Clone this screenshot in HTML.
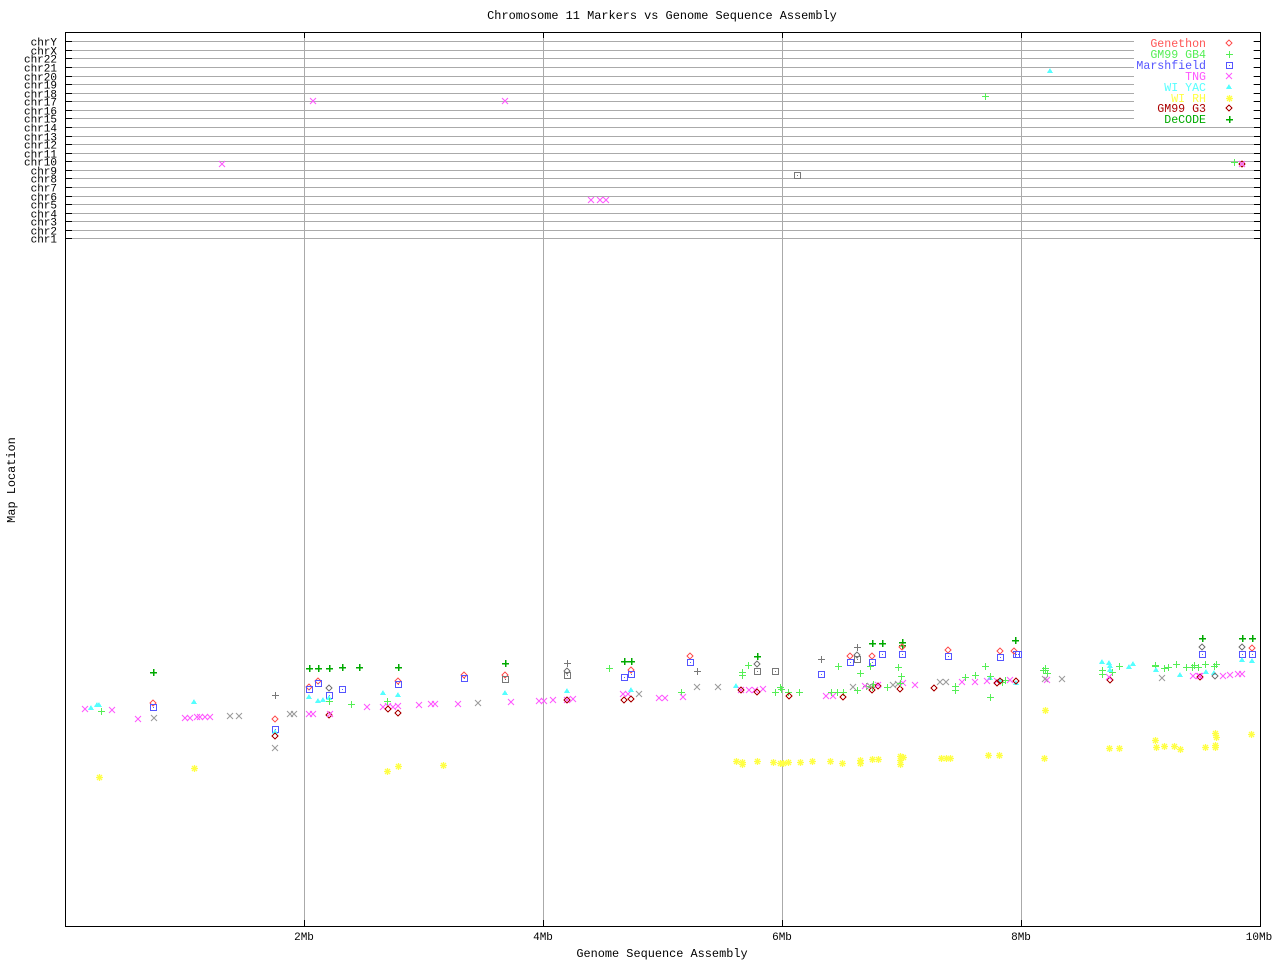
<!DOCTYPE html>
<html><head><meta charset="utf-8"><style>
html,body{margin:0;padding:0;background:#fff;}
svg text{font-family:"Liberation Mono","DejaVu Sans Mono",monospace;font-size:11px;}
</style></head><body>
<svg id="s" width="1280" height="960" xmlns="http://www.w3.org/2000/svg" shape-rendering="crispEdges">
<rect width="1280" height="960" fill="#fff"/>
<text x="662" y="19" text-anchor="middle" style="font-size:11.9px">Chromosome 11 Markers vs Genome Sequence Assembly</text>
<text x="662" y="957" text-anchor="middle" style="font-size:11.9px">Genome Sequence Assembly</text>
<text transform="translate(15,480) rotate(-90)" text-anchor="middle" style="font-size:11.9px">Map Location</text>
<g id="grid"></g>
<rect x="65.5" y="32.5" width="1195" height="894" fill="none" stroke="#000"/>
<g id="pts"></g>
<g id="leg"></g>
</svg>
<script>
var NS="http://www.w3.org/2000/svg",g=document.getElementById('grid'),P=document.getElementById('pts'),L=document.getElementById('leg');
function el(p,t,a,txt){var e=document.createElementNS(NS,t);for(var k in a)e.setAttribute(k,a[k]);if(txt)e.textContent=txt;p.appendChild(e);return e;}
var chr=["chrY","chrX","chr22","chr21","chr20","chr19","chr18","chr17","chr16","chr15","chr14","chr13","chr12","chr11","chr10","chr9","chr8","chr7","chr6","chr5","chr4","chr3","chr2","chr1"];
for(var i=0;i<24;i++){var y=Math.round(41.3+i*8.57)+0.5;
el(g,'line',{x1:66,x2:1260,y1:y,y2:y,stroke:'#aaa'});
el(g,'line',{x1:66,x2:72,y1:y,y2:y,stroke:'#000'});
el(g,'line',{x1:1254,x2:1260,y1:y,y2:y,stroke:'#000'});
el(g,'text',{x:57,y:y+4,'text-anchor':'end'},chr[i]);}
var xs=[304,543,782,1021],lb=["2Mb","4Mb","6Mb","8Mb"];
for(var i=0;i<4;i++){var x=xs[i]+0.5;el(g,'line',{x1:x,x2:x,y1:33,y2:926,stroke:'#aaa'});
el(g,'line',{x1:x,x2:x,y1:33,y2:38,stroke:'#000'});el(g,'line',{x1:x,x2:x,y1:920,y2:926,stroke:'#000'});
el(g,'text',{x:xs[i],y:940,'text-anchor':'middle'},lb[i]);}
el(g,'text',{x:1259,y:940,'text-anchor':'middle'},"10Mb");
var C={g:'#f55',p:'#5e5',m:'#55f',t:'#f5f',y:'#5ff',r:'#ff4',d:'#a00',c:'#0a0',X:'#999',S:'#777',P:'#777',D:'#777'};
function sym(par,t,x,y){var c=C[t];
if(t=='g'||t=='d'||t=='D'){el(par,'polygon',{points:(x)+','+(y-3)+' '+(x+3)+','+y+' '+x+','+(y+3)+' '+(x-3)+','+y,fill:'none',stroke:c});}
else if(t=='p'||t=='c'||t=='P'){el(par,'path',{d:'M'+(x-3)+' '+(y+.5)+'h7M'+(x+.5)+' '+(y-3)+'v7',stroke:c,'stroke-width':(t=='c'?1.5:1)});}
else if(t=='m'||t=='S'){el(par,'rect',{x:x-2.5,y:y-2.5,width:6,height:6,fill:'none',stroke:c});el(par,'rect',{x:x,y:y,width:1,height:1,fill:c});}
else if(t=='t'||t=='X'){el(par,'path',{d:'M'+(x-3)+' '+(y-3)+'L'+(x+3)+' '+(y+3)+'M'+(x+3)+' '+(y-3)+'L'+(x-3)+' '+(y+3),stroke:c,'shape-rendering':'auto'});}
else if(t=='y'){el(par,'polygon',{points:x+','+(y-3)+' '+(x+3)+','+(y+2)+' '+(x-3)+','+(y+2),fill:c});}
else if(t=='r'){el(par,'path',{d:'M'+(x-3)+' '+(y+.5)+'h7M'+(x+.5)+' '+(y-3)+'v7M'+(x-2)+' '+(y-2)+'l5 5M'+(x+3)+' '+(y-2)+'l-5 5',stroke:c,'stroke-width':1.3,'shape-rendering':'auto'});}}
var D="t 222 164;t 313 101;t 505 101;t 591 200;t 600 200;t 606 200;d 1242 164;t 1242 164;S 797 175;y 1050 71;p 985 96;p 1234 162;"+
"t 85 709;y 91 708;y 97 705;y 99 705;p 101 711;t 112 710;c 153 672;g 153 703;m 153 707;t 138 719;X 154 718;y 194 702;t 185 718;t 190 718;t 197 717;t 200 717;t 205 717;t 210 717;X 230 716;X 239 716;m 275 729;y 275 732;d 275 736;g 275 719;X 275 748;P 275 695;r 99 777;r 194 768;r 387 771;r 398 766;r 443 765;"+
"c 309 668;c 318 668;c 329 668;c 342 667;c 359 667;c 398 667;g 309 687;m 309 689;g 318 681;m 318 683;g 329 688;m 329 695;m 342 689;y 309 697;y 318 701;y 323 700;y 329 698;p 329 701;p 351 704;t 367 707;y 383 693;t 383 707;t 388 706;t 393 707;d 388 709;t 398 706;d 398 713;y 398 695;p 387 701;g 398 681;m 398 684;t 419 705;t 431 704;t 435 704;t 458 704;X 478 703;t 511 702;g 464 675;m 464 678;P 505 663;c 505 663;g 505 675;S 505 679;y 505 693;t 539 701;t 544 701;t 553 700;X 294 714;X 290 714;t 309 714;t 313 714;D 329 688;d 329 715;t 330 714;"+
"P 567 663;D 567 671;S 567 675;y 567 691;t 567 700;d 567 700;t 573 699;p 609 668;c 624 661;c 631 661;m 624 677;g 631 670;m 631 674;t 623 694;t 628 694;y 631 690;X 639 694;d 624 700;d 631 699;t 659 698;t 665 698;p 681 692;t 683 697;g 690 656;m 690 662;P 697 671;X 697 687;X 718 687;y 736 686;p 742 672;p 742 675;p 748 665;c 757 656;D 757 664;S 757 671;S 775 671;t 741 690;d 741 690;t 749 690;t 755 690;t 763 689;d 757 692;p 781 689;p 780 687;p 799 692;p 775 692;p 788 692;d 789 696;P 821 659;m 821 674;p 838 666;t 826 696;t 833 696;p 831 692;p 837 692;p 843 692;d 843 697;P 857 647;c 872 643;c 882 643;c 902 642;c 902 645;g 850 656;D 857 655;m 850 662;S 857 659;g 872 656;m 872 662;m 882 654;m 902 654;g 902 647;p 860 673;p 870 666;p 857 690;p 866 686;p 873 684;p 872 687;p 887 687;d 872 690;d 878 686;X 853 687;t 865 686;X 870 686;t 878 685;X 893 685;X 898 684;t 903 683;d 900 689;p 898 667;p 901 676;p 900 683;t 915 685;d 934 688;X 940 682;X 946 682;g 948 650;m 948 656;c 1015 640;g 1000 651;m 1000 657;m 1016 654;g 1014 651;m 1018 654;y 990 678;y 1000 681;y 1016 683;p 990 676;p 985 666;p 1002 682;p 1005 680;p 990 697;t 962 682;t 975 682;t 987 681;t 997 681;t 1010 680;d 997 683;d 1016 681;d 1000 681;p 955 686;p 955 690;p 975 675;p 965 677;"+
"r 736 761;r 742 762;r 742 764;r 757 761;r 773 762;r 780 763;r 783 763;r 788 762;r 800 762;r 812 761;r 830 761;r 842 763;r 860 763;r 860 760;r 872 759;r 878 759;r 900 760;r 900 764;r 900 756;r 903 757;r 941 758;r 946 758;r 950 758;r 988 755;r 999 755;"+
"p 1043 670;p 1045 670;p 1047 673;p 1045 668;t 1047 680;X 1062 679;y 1102 662;p 1102 670;p 1102 674;y 1109 663;y 1110 666;p 1112 672;y 1110 670;p 1119 666;y 1129 667;y 1133 664;d 1110 680;t 1109 677;p 1155 665;p 1155 666;y 1156 670;p 1164 668;p 1168 667;p 1176 664;y 1180 675;X 1162 678;p 1186 667;p 1192 667;p 1194 665;p 1198 667;p 1205 664;p 1216 664;p 1214 666;y 1206 672;y 1214 673;t 1193 676;t 1199 676;d 1200 677;t 1200 676;D 1215 676;t 1223 676;t 1230 675;t 1238 674;t 1242 674;c 1202 638;D 1202 647;m 1202 654;c 1242 638;c 1252 638;D 1242 647;g 1252 648;m 1242 654;m 1252 654;y 1242 660;y 1252 661;X 1045 679;"+
"r 1045 710;r 1044 758;r 1109 748;r 1119 748;r 1155 740;r 1156 747;r 1164 746;r 1174 746;r 1180 749;r 1205 747;r 1215 733;r 1216 737;r 1215 745;r 1215 747;r 1251 734";
D.split(';').forEach(function(s){var a=s.split(' ');if(a.length==3)sym(P,a[0],+a[1],+a[2]);});
el(L,'rect',{x:1134,y:36,width:119,height:91,fill:'#fff'});
var names=[["Genethon",'g','#f55'],["GM99 GB4",'p','#5e5'],["Marshfield",'m','#55f'],["TNG",'t','#f5f'],["WI YAC",'y','#5ff'],["WI RH",'r','#ff4'],["GM99 G3",'d','#a00'],["DeCODE",'c','#0a0']];
for(var i=0;i<8;i++){var y=Math.round(43+i*10.9);
var tx=el(L,'text',{x:1206,y:y+4,'text-anchor':'end',fill:names[i][2]},names[i][0]);tx.style.fontSize='11.6px';sym(L,names[i][1],1229,y);}
</script>
</body></html>
